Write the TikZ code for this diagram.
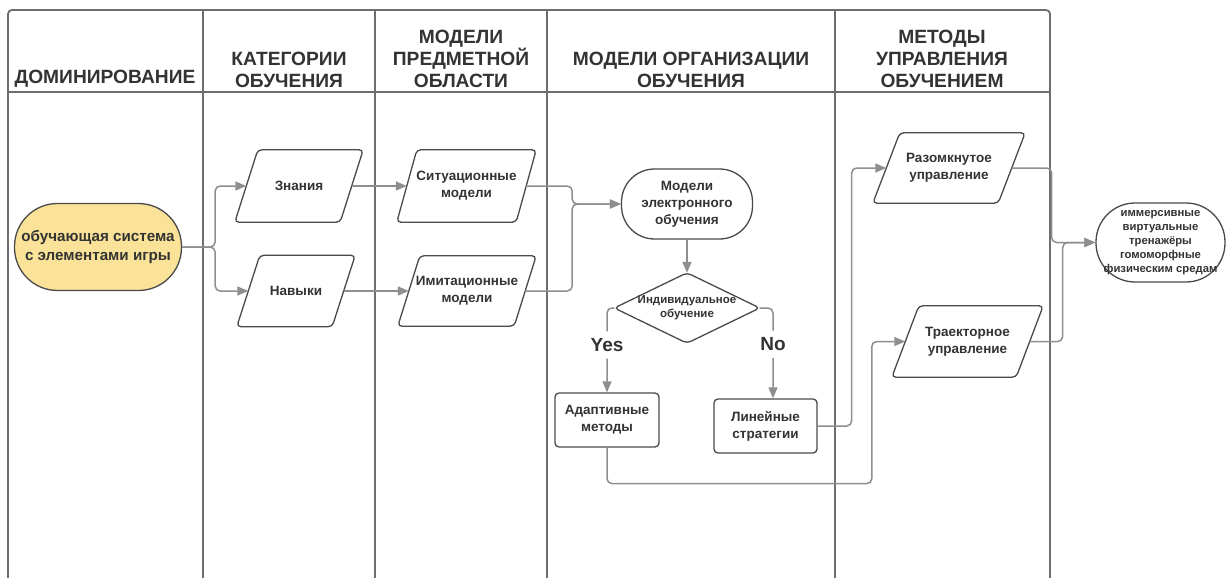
\documentclass[tikz,border=0pt]{standalone}
\usepackage{fontspec}
\setmainfont{Liberation Sans}
\usetikzlibrary{arrows.meta}
\definecolor{txt}{HTML}{333333}
\definecolor{edgec}{HTML}{4A4A4A}
\definecolor{cgray}{HTML}{8E8E8E}
\definecolor{framec}{HTML}{6E6E6E}
\definecolor{yel}{RGB}{250,227,152}
\newcommand{\paral}[2]{\draw[outline] ([xshift=#2]#1.north west) -- (#1.north east) -- ([xshift=-#2]#1.south east) -- (#1.south west) -- cycle;}
\begin{document}
\begin{tikzpicture}[x=1pt,y=-1pt,
  lane/.style={draw=framec, line width=1.8pt},
  hdr/.style={font=\bfseries\fontsize{19.2}{22}\selectfont, text=txt, align=center, anchor=south, inner sep=0pt},
  tb/.style={font=\bfseries\fontsize{13.5}{17}\selectfont, text=txt, align=center, inner sep=0pt},
  outline/.style={draw=edgec, line width=1.3pt, rounded corners=4pt},
  arr/.style={draw=cgray, line width=1.5pt, rounded corners=5pt, -{Triangle[length=11pt,width=9pt]}},
  yn/.style={font=\bfseries\fontsize{19}{22}\selectfont, text=txt, fill=white, inner xsep=2pt, inner ysep=7pt},
]
\useasboundingbox (0,0) rectangle (1227,578);
% frame and lanes
\draw[lane, rounded corners=4pt] (8,578) -- (8,10) -- (1050,10) -- (1050,578);
\draw[lane] (8,92) -- (1050,92);
\foreach \xx in {203,375,547,835} \draw[lane] (\xx,10) -- (\xx,578);
% headers
\node[hdr] (h1) at (105,88) {ДОМИНИРОВАНИЕ};
\node[hdr] (h2) at (289,88) {КАТЕГОРИИ\\ОБУЧЕНИЯ};
\node[hdr] (h3) at (461,88) {МОДЕЛИ\\ПРЕДМЕТНОЙ\\ОБЛАСТИ};
\node[hdr] (h4) at (691,88) {МОДЕЛИ ОРГАНИЗАЦИИ\\ОБУЧЕНИЯ};
\node[hdr] (h5) at (942,88) {МЕТОДЫ\\УПРАВЛЕНИЯ\\ОБУЧЕНИЕМ};
% nodes
\node[tb, draw=edgec, line width=1.3pt, fill=yel, rounded corners=43pt, minimum width=167pt, minimum height=87pt, font=\bfseries\fontsize{15.2}{19}\selectfont] (start) at (98,247) {обучающая система\\с элементами игры};
\node[tb, minimum width=128pt, minimum height=72pt] (zn) at (299,186) {Знания};
\node[tb, minimum width=118pt, minimum height=71pt] (nav) at (296,291) {Навыки};
\node[tb, minimum width=139pt, minimum height=72pt] (sit) at (466.5,186) {Ситуационные\\модели};
\node[tb, minimum width=138pt, minimum height=70pt] (imit) at (467,291) {Имитационные\\модели};
\node[tb, draw=edgec, line width=1.3pt, fill=white, rounded corners=33pt, minimum width=131pt, minimum height=70pt] (elearn) at (687,204) {Модели\\электронного\\обучения};
\node[tb, minimum width=145pt, minimum height=70pt, font=\bfseries\fontsize{11.5}{14}\selectfont] (dec) at (687,308) {Индивидуальное\\обучение};
\node[tb, draw=edgec, line width=1.3pt, fill=white, rounded corners=4pt, minimum width=104pt, minimum height=54pt] (adapt) at (607,420) {Адаптивные\\методы};
\node[tb, draw=edgec, line width=1.3pt, fill=white, rounded corners=4pt, minimum width=103pt, minimum height=54pt] (lin) at (765.5,426) {Линейные\\стратегии};
\node[tb, minimum width=152pt, minimum height=70pt] (raz) at (949,168) {Разомкнутое\\управление};
\node[tb, minimum width=151pt, minimum height=71pt] (traj) at (967.5,341.5) {Траекторное\\управление};
\node[tb, draw=edgec, line width=1.3pt, fill=white, rounded corners=39pt, minimum width=129pt, minimum height=79pt, font=\bfseries\fontsize{11.3}{14}\selectfont] (right) at (1160.5,242.5) {иммерсивные\\виртуальные\\тренажёры\\гомоморфные\\физическим средам};
% outlines
\paral{zn}{23pt}
\paral{nav}{23pt}
\paral{sit}{20pt}
\paral{imit}{22pt}
\paral{raz}{27pt}
\paral{traj}{27pt}
\draw[outline] (dec.north) -- (dec.east) -- (dec.south) -- (dec.west) -- cycle;
% connectors
\draw[arr] (start.east) -- ++(33,0) |- ([xshift=11.5pt]zn.west);
\draw[arr] (start.east) -- ++(33,0) |- ([xshift=11.5pt]nav.west);
\draw[arr] ([xshift=-11.5pt]zn.east) -- ([xshift=10pt]sit.west);
\draw[arr] ([xshift=-11.5pt]nav.east) -- ([xshift=11pt]imit.west);
\draw[arr] ([xshift=-10pt]sit.east) -- ++(46,0) |- (elearn.west);
\draw[arr] ([xshift=-11pt]imit.east) -- ++(47,0) |- (elearn.west);
\draw[arr] (elearn.south) -- (dec.north);
\draw[arr] (dec.west) -| node[yn, pos=0.72] (yes) {Yes} (adapt.north);
\draw[arr] (dec.east) -| node[yn, pos=0.70] (no) {No} ([xshift=7.5pt]lin.north);
\draw[arr] (lin.east) -- ++(34,0) |- ([xshift=13.5pt]raz.west);
\draw[arr] (adapt.south) -- ++(0,36) -| ([xshift=-20pt]traj.west) -- ([xshift=13.5pt]traj.west);
\draw[arr] ([xshift=-13.5pt]raz.east) -- ++(40,0) |- (right.west);
\draw[arr] ([xshift=-13.5pt]traj.east) -- ++(33,0) |- (right.west);
\end{tikzpicture}
\end{document}
